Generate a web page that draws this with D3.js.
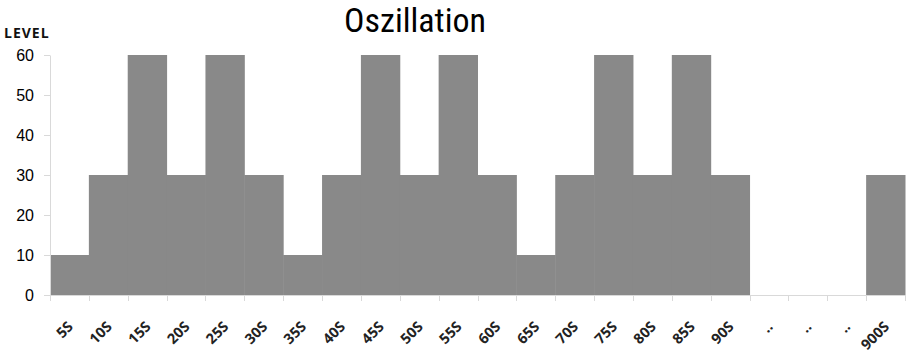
<!DOCTYPE html>
<html>
<head>
<meta charset="utf-8">
<script src="https://cdn.jsdelivr.net/npm/d3@7"></script>
<style>
  html, body { margin: 0; padding: 0; background: #fff; }
  svg { display: block; }
</style>
</head>
<body>
<svg id="chart" width="906" height="360"></svg>
<script>
// Oscillation levels per time step
const categories = ["5S","10S","15S","20S","25S","30S","35S","40S","45S","50S","55S","60S","65S","70S","75S","80S","85S","90S","..","..","..","900S"];
const levels = [10,30,60,30,60,30,10,30,60,30,60,30,10,30,60,30,60,30,0,0,0,30];
const yTicks = [0,10,20,30,40,50,60];

const svg = d3.select("#chart");
const margin = { left: 50, right: 1, top: 55, bottom: 65 };
const W = 906, H = 360;

const x = d3.scaleBand()
  .domain(categories.map((c, i) => i))
  .range([margin.left, W - margin.right])
  .padding(0);
const y = d3.scaleLinear().domain([0, 60]).range([H - margin.bottom, margin.top]);

// bars
svg.append("g").selectAll("rect")
  .data(levels)
  .join("rect")
  .attr("x", (d, i) => x(i))
  .attr("width", x.bandwidth() + 0.5)
  .attr("y", d => y(d))
  .attr("height", d => y(0) - y(d))
  .attr("fill", "#898989");

// y axis
const yAxis = svg.append("g")
  .attr("transform", `translate(${margin.left},0)`)
  .call(d3.axisLeft(y).tickValues(yTicks).tickSize(6).tickPadding(10).tickSizeOuter(0));
yAxis.select(".domain").attr("stroke", "#d9d9d9");
yAxis.selectAll(".tick line").attr("stroke", "#d9d9d9");
yAxis.selectAll(".tick text")
  .attr("font-family", "Liberation Sans, Arial, sans-serif")
  .attr("font-size", 16)
  .attr("fill", "#000");

// x axis with ticks at category boundaries
const boundaries = d3.range(categories.length + 1).map(i => margin.left + i * x.bandwidth());
const xg = svg.append("g");
xg.append("line")
  .attr("x1", margin.left).attr("x2", W - margin.right)
  .attr("y1", y(0) + 0.5).attr("y2", y(0) + 0.5)
  .attr("stroke", "#d9d9d9");
xg.selectAll("line.tick")
  .data(boundaries)
  .join("line")
  .attr("class", "tick")
  .attr("x1", d => Math.round(d) + 0.5).attr("x2", d => Math.round(d) + 0.5)
  .attr("y1", y(0)).attr("y2", y(0) + 6)
  .attr("stroke", "#d9d9d9");

// category labels tilted by 45 degrees
xg.selectAll("text.lab")
  .data(categories)
  .join("text")
  .attr("class", "lab")
  .attr("transform", (d, i) => `translate(${x(i) + x.bandwidth() / 2 + 1},${y(0) + 29}) rotate(-45)`)
  .attr("dy", "0.35em")
  .attr("text-anchor", "end")
  .attr("font-family", "Open Sans, sans-serif")
  .attr("font-weight", "bold")
  .attr("font-size", 14.5)
  .attr("fill", "#222")
  .text(d => d);

// axis caption
svg.append("text")
  .attr("x", 4).attr("y", 38)
  .attr("font-family", "Open Sans, sans-serif")
  .attr("font-weight", "bold")
  .attr("font-size", 14)
  .attr("letter-spacing", 1)
  .attr("fill", "#111")
  .text("LEVEL");

// title
svg.append("text")
  .attr("x", 415).attr("y", 32)
  .attr("text-anchor", "middle")
  .attr("font-family", "Liberation Sans Narrow, Roboto, sans-serif")
  .attr("font-stretch", "condensed")
  .attr("font-size", 34)
  .attr("fill", "#000")
  .text("Oszillation");
</script>
</body>
</html>
